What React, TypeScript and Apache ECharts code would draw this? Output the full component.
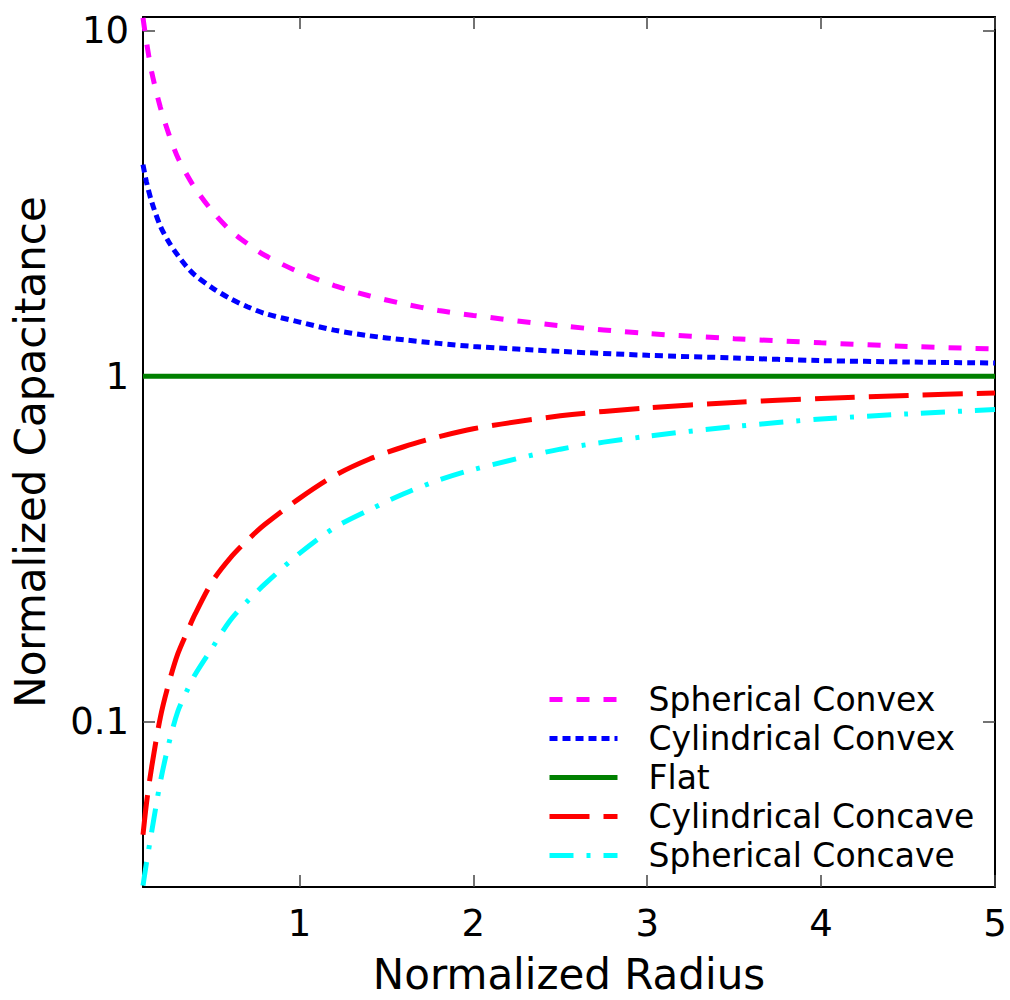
import React, { useEffect, useRef } from "react";
import * as echarts from "echarts";

const rValues = [0.1, 0.12, 0.15, 0.2, 0.25, 0.3, 0.35, 0.4, 0.5, 0.6, 0.7, 0.8, 1.0, 1.2, 1.4, 1.6, 1.8, 2.0, 2.5, 3.0, 3.5, 4.0, 4.5, 5.0];
const sphericalConvex = [10.9, 9.3, 7.6, 6.0, 5.0, 4.3, 3.85, 3.5, 3.0, 2.65, 2.42, 2.24, 2.0, 1.83, 1.71, 1.62, 1.55, 1.5, 1.4, 1.33, 1.285, 1.25, 1.22, 1.2];
const cylindricalConvex = [4.1, 3.65, 3.2, 2.72, 2.44, 2.24, 2.08, 1.96, 1.8, 1.68, 1.59, 1.52, 1.435, 1.36, 1.31, 1.275, 1.245, 1.22, 1.18, 1.15, 1.13, 1.11, 1.1, 1.092];
const flat = [1, 1, 1, 1, 1, 1, 1, 1, 1, 1, 1, 1, 1, 1, 1, 1, 1, 1, 1, 1, 1, 1, 1, 1];
const cylindricalConcave = [0.047, 0.058, 0.074, 0.103, 0.13, 0.157, 0.18, 0.205, 0.255, 0.297, 0.335, 0.372, 0.443, 0.515, 0.575, 0.625, 0.668, 0.705, 0.768, 0.81, 0.84, 0.862, 0.88, 0.895];
const sphericalConcave = [0.0335, 0.039, 0.048, 0.067, 0.087, 0.107, 0.122, 0.137, 0.164, 0.196, 0.223, 0.25, 0.307, 0.364, 0.41, 0.457, 0.5, 0.537, 0.615, 0.67, 0.715, 0.752, 0.778, 0.801];

const seriesNames = ["Spherical Convex", "Cylindrical Convex", "Flat", "Cylindrical Concave", "Spherical Concave"];
const xTicks = [1, 2, 3, 4, 5];
const yTicks = [0.1, 1, 10];

export default function App() {
  const ref = useRef<HTMLDivElement>(null);
  useEffect(() => {
    const chart = echarts.init(ref.current!, null, { renderer: "svg" });
    const font = "DejaVu Sans";
    const pairs = (ys: number[]) => rValues.map((r, i) => [r, ys[i]]);
    const axisLine = { show: true, onZero: false, lineStyle: { color: "#000", width: 2 } };
    const tickStyle = { color: "#444", width: 1.5 };
    const mk = (name: string, ys: number[], color: string, type: any, z: number) => ({
      name,
      type: "line",
      data: pairs(ys),
      showSymbol: false,
      symbol: "none",
      smooth: 0.3,
      z,
      lineStyle: { color, width: 5, type, cap: "butt" },
      itemStyle: { color },
    });
    chart.setOption({
      animation: false,
      backgroundColor: "#ffffff",
      textStyle: { fontFamily: font },
      grid: { left: 143, right: 15, top: 17, bottom: 110 },
      xAxis: [
        {
          type: "value",
          min: 0.1,
          max: 5,
          position: "bottom",
          name: "Normalized Radius",
          nameLocation: "middle",
          nameGap: 66,
          nameTextStyle: { fontSize: 42, color: "#000", fontFamily: font },
          axisLine,
          axisTick: { show: true, inside: true, length: 12, lineStyle: tickStyle, customValues: xTicks },
          axisLabel: { customValues: xTicks, fontSize: 37, color: "#000", margin: 18, fontFamily: font },
          splitLine: { show: false },
        },
        {
          type: "value",
          min: 0.1,
          max: 5,
          position: "top",
          axisLine,
          axisTick: { show: true, inside: true, length: 12, lineStyle: tickStyle, customValues: xTicks },
          axisLabel: { show: false },
          splitLine: { show: false },
        },
      ],
      yAxis: [
        {
          type: "log",
          logBase: 10,
          min: 0.0332,
          max: 10.97,
          position: "left",
          name: "Normalized Capacitance",
          nameLocation: "middle",
          nameGap: 92,
          nameTextStyle: { fontSize: 42, color: "#000", fontFamily: font },
          axisLine,
          axisTick: { show: true, inside: true, length: 12, lineStyle: tickStyle, customValues: yTicks },
          axisLabel: {
            customValues: yTicks,
            fontSize: 37,
            color: "#000",
            margin: 14,
            fontFamily: font,
            formatter: (v: number) => String(Number(Number(v).toPrecision(3))),
          },
          minorTick: { show: false },
          splitLine: { show: false },
        },
        {
          type: "log",
          logBase: 10,
          min: 0.0332,
          max: 10.97,
          position: "right",
          axisLine,
          axisTick: { show: true, inside: true, length: 12, lineStyle: tickStyle, customValues: yTicks },
          axisLabel: { show: false },
          splitLine: { show: false },
        },
      ],
      legend: {
        orient: "vertical",
        left: 542,
        top: 677,
        itemWidth: 68,
        itemHeight: 10,
        itemGap: 4,
        data: seriesNames,
        itemStyle: { color: "rgba(0,0,0,0)", opacity: 0, borderWidth: 0 },
        lineStyle: { width: 5 },
        textStyle: { fontSize: 33, color: "#000", fontFamily: font, lineHeight: 35, padding: [0, 0, 0, 26] },
      },
      series: [
        mk(seriesNames[0], sphericalConvex, "#ff00ff", [13, 14], 5),
        mk(seriesNames[1], cylindricalConvex, "#0000ff", [8, 5], 4),
        mk(seriesNames[2], flat, "#008000", "solid", 3),
        mk(seriesNames[3], cylindricalConcave, "#ff0000", [40, 14], 2),
        mk(seriesNames[4], sphericalConcave, "#00ffff", [24, 13, 4, 13], 1),
      ],
    });
    return () => chart.dispose();
  }, []);
  return (
    <div
      ref={ref}
      style={{ position: "absolute", left: 0, top: 0, width: 1010, height: 1000, background: "#fff" }}
    />
  );
}
